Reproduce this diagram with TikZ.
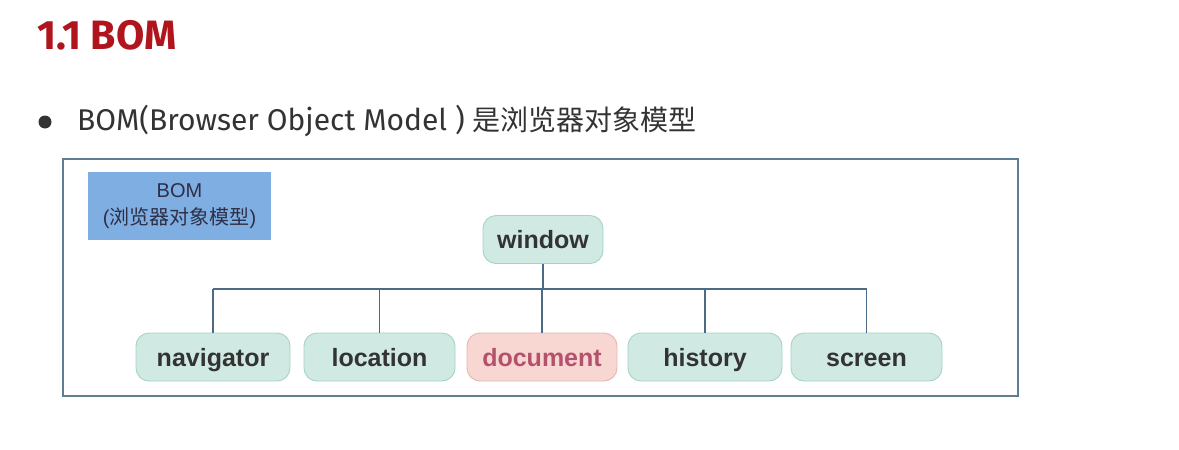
\documentclass[tikz,border=0pt]{standalone}
\usepackage{fontspec}
\setmainfont{Noto Sans}
\newfontfamily\cjk{Noto Sans CJK SC}
\newfontfamily\arial{Liberation Sans}
\newfontfamily\fira{Fira Sans}
\definecolor{titlered}{HTML}{B0141C}
\definecolor{txt}{HTML}{333333}
\definecolor{teal}{HTML}{D0EAE3}
\definecolor{tealb}{HTML}{A6D3C5}
\definecolor{pink}{HTML}{F8D6D2}
\definecolor{pinkb}{HTML}{E8B6B2}
\definecolor{pinktxt}{HTML}{B4526E}
\definecolor{wire}{HTML}{4B6B86}
\definecolor{frame}{HTML}{5F7D93}
\definecolor{bomblue}{HTML}{7FAEE2}
\tikzset{
  objbox/.style={draw=tealb, fill=teal, line width=0.9pt, rounded corners=13pt,
    minimum height=48pt, inner sep=0pt, text=txt, text height=20pt, text depth=2pt,
    font=\arial\bfseries\fontsize{25}{29}\selectfont},
  docbox/.style={objbox, draw=pinkb, fill=pink, text=pinktxt},
  wireline/.style={draw=wire, line width=1.4pt}
}
\begin{document}
\begin{tikzpicture}[x=1pt,y=-1pt]
\useasboundingbox (0,0) rectangle (1179,450);
\fill[white] (0,0) rectangle (1179,450);
% title
\node[anchor=west, inner sep=0pt, text=titlered, font=\fira\bfseries\fontsize{41}{44}\selectfont] (title) at (37,35) {1.1 BOM};
% bullet line
\fill[txt] (45,122) circle (6.5);
\node[anchor=west, inner sep=0pt, text=txt, font=\fira\fontsize{30}{34}\selectfont] (bullet) at (77,121)
  {BOM(Browser Object Model ) {\cjk\fontsize{28}{34}\selectfont 是浏览器对象模型}};
% frame
\draw[frame, line width=1.2pt] (63,159) rectangle (1018,396);
% BOM label
\node[fill=bomblue, minimum width=183pt, minimum height=68pt, inner sep=0pt, align=center,
  text=txt!90!blue, font=\arial\fontsize{20}{27}\selectfont] (bom) at (179.5,206)
  {BOM\\(\cjk 浏览器对象模型\arial)};
% nodes
\node[objbox, minimum width=120pt] (window) at (543,239.5) {window};
\node[objbox, minimum width=154pt] (navigator) at (213,357) {navigator};
\node[objbox, minimum width=151pt] (location) at (379.5,357) {location};
\node[docbox, minimum width=150pt] (document) at (542,357) {document};
\node[objbox, minimum width=154pt] (history) at (705,357) {history};
\node[objbox, minimum width=151pt] (screen) at (866.5,357) {screen};
% connectors
\coordinate (bus) at (543,289);
\draw[wireline] (window.south) -- (bus);
\draw[wireline] (navigator.north |- bus) -- (screen.north |- bus);
\foreach \n in {navigator,location,document,history,screen}
  \draw[wireline] (\n.north) -- (\n.north |- bus);
\end{tikzpicture}
\end{document}
